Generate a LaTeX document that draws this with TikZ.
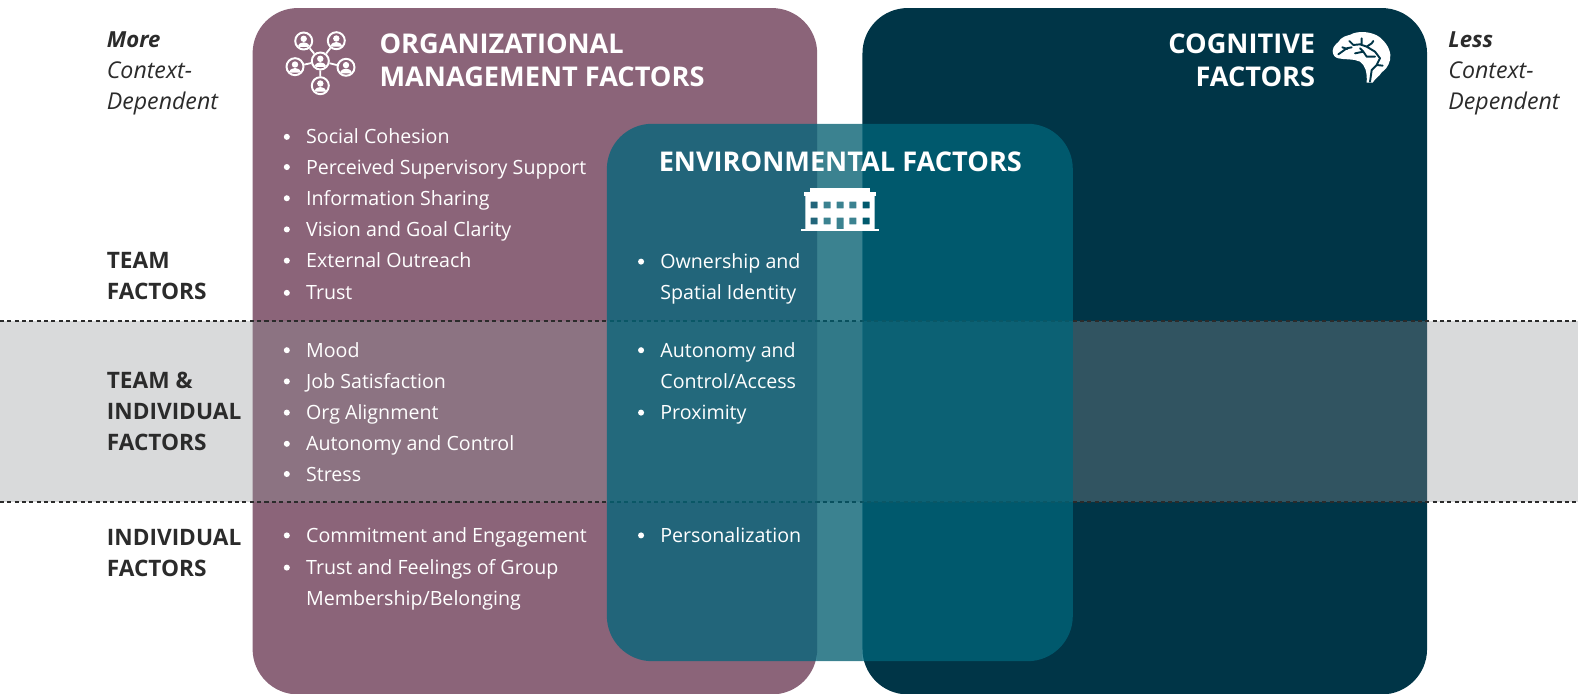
\documentclass[tikz,border=0pt]{standalone}
\usepackage{fontspec}
\setmainfont{Open Sans}
\definecolor{orgc}{HTML}{8B6479}
\definecolor{cogc}{HTML}{003547}
\definecolor{envc}{RGB}{0,102,123}
\definecolor{bandc}{RGB}{144,146,150}
\definecolor{inkc}{HTML}{2B2B2B}
\tikzset{
  x=1pt,y=-1pt,
  panel/.style={rounded corners=45pt},
  bodytxt/.style={anchor=base west,inner sep=0pt,text=white,font=\fontsize{19.5}{20}\selectfont},
  headtxt/.style={anchor=base west,inner sep=0pt,text=white,font=\fontsize{27}{28}\selectfont\bfseries},
  sidetxt/.style={anchor=base west,inner sep=0pt,text=inkc,font=\fontsize{22.5}{24}\selectfont\bfseries},
  sidesoft/.style={anchor=base west,inner sep=0pt,text=inkc,font=\fontsize{23}{24}\selectfont\itshape},
  sidesoftb/.style={sidesoft,font=\fontsize{22}{24}\selectfont\itshape\bfseries},
  divider/.style={line width=1.5pt,draw=inkc,dash pattern=on 4pt off 3.3pt},
  bulletdot/.style={circle,fill=white,inner sep=0pt,minimum size=6pt},
}
% \bl{name}{x}{y}{text}: bullet item
\newcommand{\bl}[4]{%
  \node[bulletdot] (#1d) at (#2-19,#3-7) {};
  \node[bodytxt] (#1) at (#2,#3) {#4};}
\newcommand{\cont}[4]{\node[bodytxt] (#1) at (#2,#3) {#4};}
% person icon in a ring: centre, radius
\newcommand{\person}[3]{%
  \begin{scope}[shift={(#1,#2)}]
    \fill[orgc] (0,0) circle (#3);
    \fill[white,even odd rule] (0,0) circle (#3) (0,0) circle ({#3-2});
    \fill[white] (0,-2.2) circle (3.2);
    \fill[white,rounded corners=1.5pt] (-5.8,6) -- (-5.8,3.8) -- (-1.8,1.4) -- (1.8,1.4) -- (5.8,3.8) -- (5.8,6) -- cycle;
  \end{scope}}
\begin{document}
\begin{tikzpicture}
\useasboundingbox (0,0) rectangle (1568,689.6);
% panels
\fill[orgc,panel] (251,8) rectangle (812,690);
\fill[cogc,panel] (857,8) rectangle (1418,690);
% band
\fill[bandc,opacity=.34] (0,319) rectangle (1568,499);
\draw[divider] (0,319) -- (1568,319);
\draw[divider] (0,499) -- (1568,499);
% env
\fill[envc,opacity=.75,panel] (603,123) rectangle (1066,657);
\fill[black,opacity=.07] (812,123) rectangle (857,657);

% left labels
\node[sidesoftb] (more) at (106,47) {More};
\node[sidesoft] (c1) at (106,78) {Context-};
\node[sidesoft] (d1) at (106,109) {Dependent};
\node[sidesoftb] (less) at (1439,47) {Less};
\node[sidesoft] (c2) at (1439,78) {Context-};
\node[sidesoft] (d2) at (1439,109) {Dependent};
\node[sidetxt] (t1) at (106,266.5) {TEAM};
\node[sidetxt] (t2) at (106,298) {FACTORS};
\node[sidetxt] (t3) at (106,386) {TEAM \&};
\node[sidetxt] (t4) at (106,417) {INDIVIDUAL};
\node[sidetxt] (t5) at (106,448) {FACTORS};
\node[sidetxt] (t6) at (106,542) {INDIVIDUAL};
\node[sidetxt] (t7) at (106,573) {FACTORS};

% headings
\node[headtxt] (h1) at (377,53) {ORGANIZATIONAL};
\node[headtxt] (h2) at (377,86) {MANAGEMENT FACTORS};
\node[headtxt,anchor=base east] (h3) at (1307,53) {COGNITIVE};
\node[headtxt,anchor=base east] (h4) at (1307,86) {FACTORS};
\node[headtxt,anchor=base] (h5) at (835,170) {ENVIRONMENTAL FACTORS};

% organisational list
\bl{a1}{304}{143}{Social Cohesion}
\bl{a2}{304}{173}{Perceived Supervisory Support}
\bl{a3}{304}{204}{Information Sharing}
\bl{a4}{304}{235}{Vision and Goal Clarity}
\bl{a5}{304}{266}{External Outreach}
\bl{a6}{304}{298}{Trust}
\bl{b1}{304}{355}{Mood}
\bl{b2}{304}{386}{Job Satisfaction}
\bl{b3}{304}{417}{Org Alignment}
\bl{b4}{304}{448}{Autonomy and Control}
\bl{b5}{304}{478}{Stress}
\bl{e1}{304}{539}{Commitment and Engagement}
\bl{e2}{304}{571}{Trust and Feelings of Group}
\cont{e3}{304}{602}{Membership/Belonging}
% environmental list
\bl{f1}{656}{267}{Ownership and}
\cont{f2}{656}{298}{Spatial Identity}
\bl{f3}{656}{355}{Autonomy and}
\cont{f4}{656}{386}{Control/Access}
\bl{f5}{656}{417}{Proximity}
\bl{f6}{656}{539}{Personalization}

% icons, drawn in true reference pixels
\begin{scope}[scale=0.99366]
  % network icon
  \draw[white,line width=1.8pt] (320.3,61) -- (303.7,41) (320.3,61) -- (336.3,40.7)
     (320.3,61) -- (295,66.7) (320.3,61) -- (346,67.3) (320.3,61) -- (320.3,85.7);
  \person{303.7}{41}{9.5}
  \person{336.3}{40.7}{9.5}
  \person{295}{66.7}{9.5}
  \person{346}{67.3}{9.5}
  \person{320.3}{61}{9.5}
  \person{320.3}{85.7}{9.5}

  % brain icon (coordinates in 3x crop units)
  \begin{scope}[shift={(1310,15)},scale=0.3333]
    \fill[white] (68,108) .. controls (68,90) and (85,85) .. (92,72)
      .. controls (105,60) and (120,62) .. (130,55)
      .. controls (160,45) and (200,55) .. (215,72)
      .. controls (235,90) and (245,115) .. (240,135)
      .. controls (235,155) and (225,165) .. (215,172)
      .. controls (208,185) and (195,190) .. (188,203)
      -- (170,203)
      .. controls (172,170) and (165,150) .. (150,140)
      .. controls (130,130) and (105,135) .. (85,130)
      .. controls (75,128) and (68,120) .. (68,108) -- cycle;
    \draw[cogc,line width=1.9pt,line cap=round,line join=round]
      (85,118) -- (110,100) -- (125,97)
      (97,97) -- (112,102)
      (118,78) -- (130,90) -- (150,88) -- (170,95) -- (185,85) -- (190,78)
      (155,70) -- (155,88)
      (170,95) -- (195,110) -- (210,130) -- (200,150) -- (185,165) -- (180,200)
      (135,115) -- (160,110) -- (170,125) -- (195,125)
      (160,110) -- (150,100)
      (200,150) -- (218,152);
  \end{scope}

  % building icon
  \fill[white] (810,188.3) rectangle (870,192);
  \fill[white] (804,192) rectangle (876,196);
  \fill[white] (801,229.3) rectangle (879,230.7);
  \fill[white,even odd rule] (805.3,196) rectangle (874.7,229.3)
    (810.7,201.7) rectangle (817.7,208.3)
    (823.7,201.7) rectangle (830.7,208.3)
    (836.7,201.7) rectangle (843.7,208.3)
    (849.3,201.7) rectangle (856.3,208.3)
    (862.7,201.7) rectangle (869.7,208.3)
    (810.7,217.7) rectangle (817.7,224.3)
    (823.7,217.7) rectangle (830.7,224.3)
    (836.7,217.7) rectangle (843.7,229.3)
    (849.3,217.7) rectangle (856.3,224.3)
    (862.7,217.7) rectangle (869.7,224.3);
\end{scope}
\end{tikzpicture}
\end{document}
